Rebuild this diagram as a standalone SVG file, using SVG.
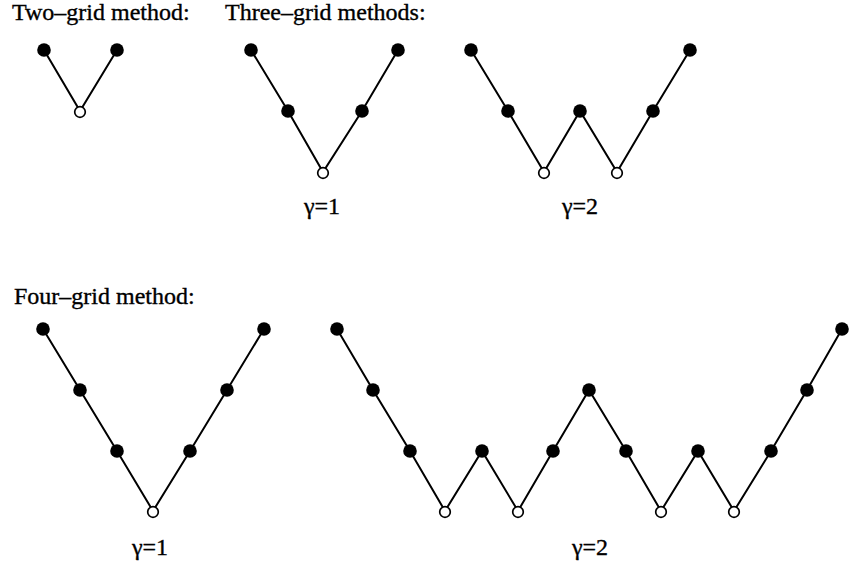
<svg xmlns="http://www.w3.org/2000/svg" width="849" height="564" viewBox="0 0 849 564">
<style>
.t{font-family:"Liberation Serif","Times New Roman",serif;font-size:24px;fill:#000;stroke:#000;stroke-width:0.35}
.c{fill:none;stroke:#000;stroke-width:2;stroke-linejoin:miter}
.f{fill:#000}
.o{fill:#fff;stroke:#000;stroke-width:1.7}
</style>
<rect width="849" height="564" fill="#fff"/>
<g id="labels">
<text class="t" x="12" y="20">Two–grid method:</text>
<text class="t" x="225" y="20">Three–grid methods:</text>
<text class="t" x="14" y="304">Four–grid method:</text>
<text class="t" x="322" y="214" text-anchor="middle">γ=1</text>
<text class="t" x="580" y="214" text-anchor="middle">γ=2</text>
<text class="t" x="150" y="555" text-anchor="middle">γ=1</text>
<text class="t" x="590" y="555" text-anchor="middle">γ=2</text>
</g>
<g id="connectors">
<polyline class="c" points="44,50 80,111 117,50"/>
<polyline class="c" points="251,50 288,111 323,172 362,111 398,50"/>
<polyline class="c" points="471,50 508,111 544,172 580,111 617,172 653,111 690,50"/>
<polyline class="c" points="43,329 80,390 117,451 153,511 190,451 227,390 264,329"/>
<polyline class="c" points="337,329 373,390 410,451 445,511 482,451 518,511 553,451 589,390 626,451 661,511 698,451 734,511 771,451 807,390 842,329"/>
</g>
<g id="two-grid">
<g id="a1"><circle class="f" cx="44" cy="50" r="6.8"/></g>
<g id="a2"><circle class="o" cx="80" cy="112" r="5.3"/></g>
<g id="a3"><circle class="f" cx="117" cy="50" r="6.8"/></g>
</g>
<g id="three-grid-g1">
<g id="b1"><circle class="f" cx="251" cy="50" r="6.8"/></g>
<g id="b2"><circle class="f" cx="288" cy="111" r="6.8"/></g>
<g id="b3"><circle class="o" cx="323" cy="173" r="5.3"/></g>
<g id="b4"><circle class="f" cx="362" cy="111" r="6.8"/></g>
<g id="b5"><circle class="f" cx="398" cy="50" r="6.8"/></g>
</g>
<g id="three-grid-g2">
<g id="c1"><circle class="f" cx="471" cy="50" r="6.8"/></g>
<g id="c2"><circle class="f" cx="508" cy="111" r="6.8"/></g>
<g id="c3"><circle class="o" cx="544" cy="173" r="5.3"/></g>
<g id="c4"><circle class="f" cx="580" cy="111" r="6.8"/></g>
<g id="c5"><circle class="o" cx="617" cy="173" r="5.3"/></g>
<g id="c6"><circle class="f" cx="653" cy="111" r="6.8"/></g>
<g id="c7"><circle class="f" cx="690" cy="50" r="6.8"/></g>
</g>
<g id="four-grid-g1">
<g id="d1"><circle class="f" cx="43" cy="329" r="6.8"/></g>
<g id="d2"><circle class="f" cx="80" cy="390" r="6.8"/></g>
<g id="d3"><circle class="f" cx="117" cy="451" r="6.8"/></g>
<g id="d4"><circle class="o" cx="153" cy="512" r="5.3"/></g>
<g id="d5"><circle class="f" cx="190" cy="451" r="6.8"/></g>
<g id="d6"><circle class="f" cx="227" cy="390" r="6.8"/></g>
<g id="d7"><circle class="f" cx="264" cy="329" r="6.8"/></g>
</g>
<g id="four-grid-g2">
<g id="e1"><circle class="f" cx="337" cy="329" r="6.8"/></g>
<g id="e2"><circle class="f" cx="373" cy="390" r="6.8"/></g>
<g id="e3"><circle class="f" cx="410" cy="451" r="6.8"/></g>
<g id="e4"><circle class="o" cx="445" cy="512" r="5.3"/></g>
<g id="e5"><circle class="f" cx="482" cy="451" r="6.8"/></g>
<g id="e6"><circle class="o" cx="518" cy="512" r="5.3"/></g>
<g id="e7"><circle class="f" cx="553" cy="451" r="6.8"/></g>
<g id="e8"><circle class="f" cx="589" cy="390" r="6.8"/></g>
<g id="e9"><circle class="f" cx="626" cy="451" r="6.8"/></g>
<g id="e10"><circle class="o" cx="661" cy="512" r="5.3"/></g>
<g id="e11"><circle class="f" cx="698" cy="451" r="6.8"/></g>
<g id="e12"><circle class="o" cx="734" cy="512" r="5.3"/></g>
<g id="e13"><circle class="f" cx="771" cy="451" r="6.8"/></g>
<g id="e14"><circle class="f" cx="807" cy="390" r="6.8"/></g>
<g id="e15"><circle class="f" cx="842" cy="329" r="6.8"/></g>
</g>
</svg>
